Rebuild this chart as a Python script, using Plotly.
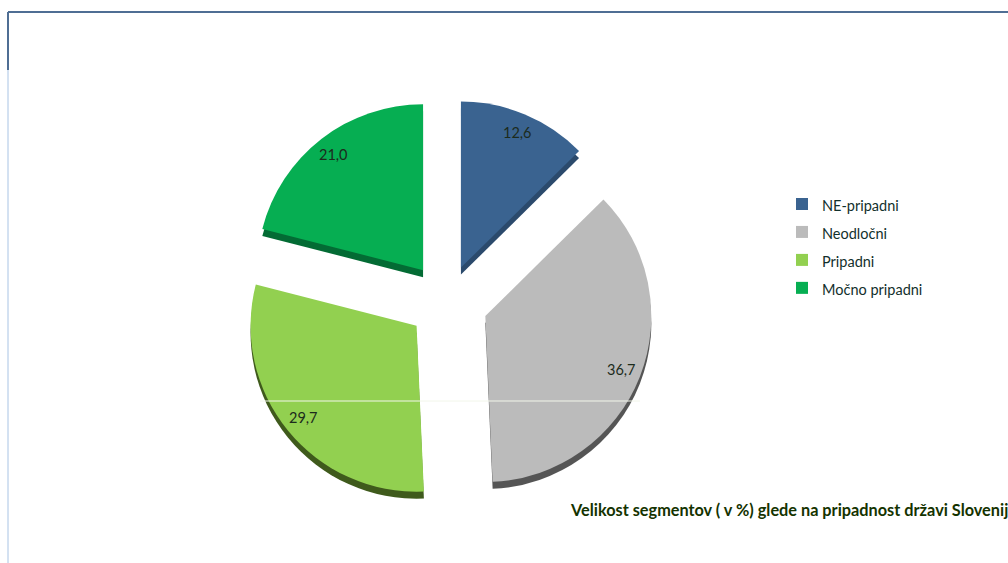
import math
import plotly.graph_objects as go

categories = ["NE-pripadni", "Neodločni", "Pripadni", "Močno pripadni"]
values = [12.6, 36.7, 29.7, 21.0]
top_colors = ["#3A6390", "#BBBBBB", "#92D050", "#06AE52"]
side_colors = ["#2B4A6C", "#555555", "#3F5A1C", "#036B34"]
pulls = [0.218, 0.248, 0.236, 0.235]
title_text = "Velikost segmentov ( v %) glede na pripadnost državi Slovenij"

W, H = 1008, 563
CX, CY, R = 447, 301, 166
DEPTH = 7
half = R * (1 + max(pulls))
LABEL_R = 0.88


def domain(cy):
    return dict(
        x=[(CX - half) / W, (CX + half) / W],
        y=[1 - (cy + half) / H, 1 - (cy - half) / H],
    )


legend_labels = [f'<span style="font-size:14.5px">{c}</span>' for c in categories]
value_labels = [f"{v:.1f}".replace(".", ",") for v in values]

fig = go.Figure()
fig.add_trace(go.Pie(
    labels=legend_labels, values=values, sort=False, direction="clockwise", rotation=0,
    pull=pulls, domain=domain(CY + DEPTH), marker=dict(colors=side_colors, line=dict(width=0)),
    textinfo="none", showlegend=False, hoverinfo="skip",
))
fig.add_trace(go.Pie(
    labels=legend_labels, values=values, sort=False, direction="clockwise", rotation=0,
    pull=pulls, domain=domain(CY), marker=dict(colors=top_colors, line=dict(width=0)),
    textinfo="none",
))

# value labels sit near the rim, on each slice's bisector
total = sum(values)
running = 0.0
for v, p, lab in zip(values, pulls, value_labels):
    ang = 2 * math.pi * (running + v / 2) / total
    running += v
    dist = (p + LABEL_R) * R
    fig.add_annotation(text=lab, xref="paper", yref="paper",
                       x=(CX + dist * math.sin(ang)) / W, y=1 - (CY - dist * math.cos(ang)) / H,
                       xanchor="center", yanchor="middle",
                       showarrow=False, font=dict(family="Lato", size=14.5, color="#1C2B1C"))

fig.add_shape(type="line", xref="paper", yref="paper", x0=8 / W, x1=1, y0=1 - 12 / H, y1=1 - 12 / H,
              line=dict(color="#4F6E94", width=2))
fig.add_shape(type="line", xref="paper", yref="paper", x0=8 / W, x1=8 / W, y0=1 - 12 / H, y1=1 - 70 / H,
              line=dict(color="#4F6E94", width=2))
fig.add_shape(type="line", xref="paper", yref="paper", x0=8 / W, x1=8 / W, y0=1 - 70 / H, y1=0,
              line=dict(color="#A9C4E4", width=1))
fig.add_shape(type="line", xref="paper", yref="paper", x0=260 / W, x1=640 / W, y0=1 - 401 / H, y1=1 - 401 / H,
              line=dict(color="#F2F6EA", width=1))

fig.add_annotation(text=f"<b>{title_text}</b>", xref="paper", yref="paper", x=568 / W, y=1 - 509 / H,
                   xanchor="left", yanchor="middle", showarrow=False, align="left",
                   font=dict(family="Lato", size=16.3, color="#143300"))

fig.update_layout(
    width=W, height=H, margin=dict(l=0, r=0, t=0, b=0), paper_bgcolor="white",
    legend=dict(x=782 / W, y=1 - 185 / H, xanchor="left", yanchor="top", itemwidth=30,
                font=dict(family="Lato", size=19.2, color="#12302C"), bgcolor="rgba(0,0,0,0)",
                itemclick=False, itemdoubleclick=False),
)
fig.write_html("out.html", config={"displayModeBar": False},
               post_script="document.body.style.margin='0';document.documentElement.style.overflow='hidden';")
